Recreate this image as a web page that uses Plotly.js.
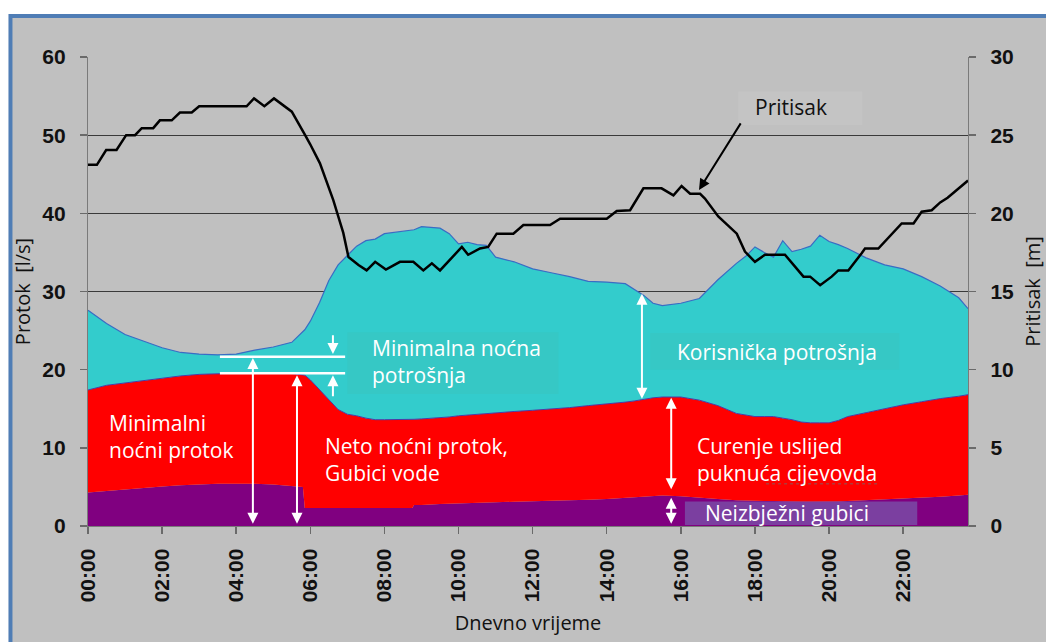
<!DOCTYPE html>
<html>
<head>
<meta charset="utf-8">
<script src="https://cdn.plot.ly/plotly-3.0.1.min.js"></script>
<style>
html,body{margin:0;padding:0;background:#ffffff;}
#chart{width:1046px;height:642px;}
</style>
</head>
<body>
<div id="chart"></div>
<script>
// ---- DATA (hours of day, flows in l/s, pressure in m) ----
var hours = [0,0.5,1,1.5,2,2.5,3,3.5,4,4.5,
  5,5.5,5.8,5.85,6,6.25,6.5,6.75,7,7.25,
  7.5,7.75,8,8.5,8.75,8.8,9,9.5,9.75,10,
  10.25,10.5,10.75,11,11.5,12,12.5,13,13.5,14,
  14.5,14.75,15,15.25,15.5,16,16.5,17,17.5,17.75,
  18,18.25,18.5,18.75,19,19.25,19.5,19.75,20,20.25,
  20.5,21,21.5,22,22.5,23,23.5,23.75];

// total flow (top of the cyan area: korisnička potrošnja)
var ukupniProtok = [27.6,25.9,24.5,23.6,22.8,22.2,22.0,21.9,22.0,22.5,
  22.9,23.5,24.8,25.1,26.2,28.6,31.4,33.4,34.6,35.8,
  36.5,36.7,37.4,37.7,37.9,37.9,38.3,38.1,37.4,36.1,
  36.3,36.0,35.9,34.4,33.8,32.9,32.4,31.9,31.3,31.2,
  31.0,30.3,29.5,28.5,28.2,28.5,29.1,31.5,33.6,34.5,
  35.7,35.0,34.4,36.5,35.1,35.4,35.8,37.2,36.4,36.0,
  35.5,34.3,33.4,32.9,31.9,30.7,29.2,27.8];

// water losses (top of the red area: curenje + neizbježni gubici)
var gubiciVode = [17.4,18.0,18.3,18.6,18.9,19.2,19.4,19.5,19.55,19.6,
  19.6,19.5,19.35,19.3,18.7,17.4,16.1,14.9,14.3,14.1,
  13.8,13.6,13.6,13.6,13.6,13.65,13.7,13.85,13.95,14.1,
  14.2,14.3,14.4,14.5,14.65,14.8,14.95,15.15,15.4,15.6,
  15.85,16.0,16.2,16.4,16.5,16.5,16.1,15.4,14.4,14.2,
  14.0,14.0,14.0,13.8,13.6,13.3,13.2,13.2,13.2,13.5,
  14.0,14.5,15.0,15.5,15.9,16.3,16.6,16.8];

// unavoidable losses (purple area)
var neizbjezniGubici = [4.3,4.5,4.7,4.9,5.05,5.2,5.3,5.4,5.4,5.4,
  5.3,5.15,5.0,2.3,2.3,2.3,2.3,2.3,2.3,2.3,
  2.3,2.3,2.3,2.3,2.3,2.7,2.7,2.8,2.85,2.9,
  2.95,3.0,3.0,3.05,3.1,3.15,3.2,3.3,3.35,3.45,
  3.6,3.7,3.8,3.85,3.9,3.8,3.6,3.45,3.3,3.25,
  3.2,3.2,3.2,3.15,3.15,3.1,3.1,3.1,3.1,3.15,
  3.2,3.3,3.4,3.5,3.6,3.75,3.9,4.0];

// pressure line
var pritisakSati = [0,0.24,0.49,0.77,1.03,1.27,1.45,1.76,1.94,2.26,
  2.48,2.80,3.0,4.28,4.48,4.76,5.02,5.50,5.86,5.99,
  6.26,6.62,6.89,7.03,7.30,7.52,7.75,8.04,8.42,8.78,
  9.05,9.28,9.50,9.82,10.09,10.26,10.58,10.80,11.03,11.48,
  11.75,12.47,12.74,14.0,14.27,14.63,14.99,15.48,15.80,16.02,
  16.25,16.52,16.65,17.01,17.51,17.73,18.0,18.27,18.81,19.31,
  19.49,19.76,20.07,20.25,20.52,20.88,20.97,21.33,21.69,21.96,
  22.28,22.50,22.77,23.0,23.2,23.45,23.75];
var pritisak = [23.1,23.1,24.05,24.05,25.0,25.0,25.45,25.45,25.95,25.95,
  26.45,26.45,26.85,26.85,27.35,26.85,27.35,26.5,25.0,24.45,
  23.2,20.85,18.75,17.2,16.7,16.35,16.9,16.4,16.9,16.9,
  16.35,16.8,16.35,17.2,17.85,17.35,17.75,17.85,18.7,18.7,
  19.25,19.25,19.65,19.65,20.15,20.2,21.6,21.6,21.15,21.75,
  21.25,21.25,20.95,19.8,18.7,17.55,16.9,17.35,17.35,15.95,
  15.95,15.4,15.95,16.35,16.35,17.45,17.75,17.75,18.7,19.35,
  19.35,20.1,20.2,20.7,21.0,21.5,22.1];

var xTickVals = [0,2,4,6,8,10,12,14,16,18,20,22];
var xTickText = ["00:00","02:00","04:00","06:00","08:00","10:00","12:00","14:00","16:00","18:00","20:00","22:00"];

// ---- TRACES ----
var traces = [
  {x: hours, y: neizbjezniGubici, type:'scatter', mode:'lines', fill:'tozeroy',
   fillcolor:'#800080', line:{width:0, color:'#800080'}, hoverinfo:'skip'},
  {x: hours, y: gubiciVode, type:'scatter', mode:'lines', fill:'tonexty',
   fillcolor:'#ff0000', line:{width:1, color:'#4b3aa6'}, hoverinfo:'skip'},
  {x: hours, y: ukupniProtok, type:'scatter', mode:'lines', fill:'tonexty',
   fillcolor:'#33cccc', line:{width:1.2, color:'#3a6cc4'}, hoverinfo:'skip'},
  {x: pritisakSati, y: pritisak, type:'scatter', mode:'lines', yaxis:'y2',
   line:{width:2.5, color:'#000000'}, hoverinfo:'skip'}
];

// ---- helpers for annotations ----
var labelFont = {family:'Open Sans', size:21, color:'#ffffff'};
function arrow(x, yTip, yTail, both, color){
  return {x:x, y:yTip, ax:x, ay:yTail, xref:'x', yref:'y', axref:'x', ayref:'y',
    text:'', showarrow:true, arrowcolor: color || '#ffffff', arrowwidth:2,
    arrowhead:2, arrowsize:1.1, arrowside: both ? 'end+start' : 'end',
    startarrowhead:2, startarrowsize:1.1, standoff:0, startstandoff:0};
}
function label(x, y, txt, extra){
  var a = {x:x, y:y, xref:'x', yref:'y', text:txt, showarrow:false,
    xanchor:'left', yanchor:'middle', align:'left', font:labelFont};
  if (extra) for (var k in extra) a[k] = extra[k];
  return a;
}

var annotations = [
  label(0.51, 11.5, 'Minimalni<br>noćni protok'),
  label(6.34, 8.55, 'Neto noćni protok,<br>Gubici vode'),
  label(7.61, 21.1, 'Minimalna noćna<br>potrošnja'),
  label(15.84, 22.3, 'Korisnička potrošnja'),
  label(16.38, 8.55, 'Curenje uslijed<br>puknuća cijevovda'),
  label(16.6, 1.6, 'Neizbježni gubici'),
  label(17.95, 53.6, 'Pritisak', {font:{family:'Open Sans', size:21, color:'#111111'}}),
  // pressure pointer
  {x:16.49, y:43.0, ax:17.64, ay:51.7, xref:'x', yref:'y', axref:'x', ayref:'y',
   text:'', showarrow:true, arrowcolor:'#000000', arrowwidth:2, arrowhead:2, arrowsize:1.1, standoff:0},
  arrow(4.45, 21.5, 0.1, true),
  arrow(5.64, 19.3, 0.1, true),
  arrow(6.61, 22.0, 24.6, false),
  arrow(6.61, 19.3, 16.4, false),
  arrow(14.95, 29.7, 16.1, true),
  arrow(15.74, 16.4, 4.5, true),
  arrow(15.74, 3.6, 0.1, true)
];

var shapes = [
  // outer grey panel with blue frame
  {type:'rect', xref:'paper', yref:'paper', x0:-0.0881, x1:1.11, y0:-0.29, y1:1.0874,
   fillcolor:'#c0c0c0', line:{color:'#4f7db5', width:4}, layer:'below'},
  // label boxes
  {type:'rect', xref:'x', yref:'y', x0:7.0, x1:12.7, y0:16.9, y1:24.8,
   fillcolor:'#36c8c5', line:{width:0}, layer:'above'},
  {type:'rect', xref:'x', yref:'y', x0:15.17, x1:21.9, y0:20.0, y1:24.7,
   fillcolor:'#36c8c5', line:{width:0}, layer:'above'},
  {type:'rect', xref:'x', yref:'y', x0:17.55, x1:20.9, y0:51.3, y1:55.6,
   fillcolor:'#c4c4c4', line:{width:0}, layer:'above'},
  {type:'rect', xref:'x', yref:'y', x0:16.11, x1:22.38, y0:0.13, y1:3.15,
   fillcolor:'#7b3fa0', line:{width:0}, layer:'above'},
  // minimum night flow levels
  {type:'line', xref:'x', yref:'y', x0:3.56, x1:6.94, y0:21.66, y1:21.66,
   line:{color:'#ffffff', width:2.5}},
  {type:'line', xref:'x', yref:'y', x0:3.56, x1:6.94, y0:19.53, y1:19.53,
   line:{color:'#ffffff', width:2.5}},
  // spell-check squiggle under "cijevovda"
  {type:'line', xref:'x', yref:'y', x0:18.3, x1:21.3, y0:5.4, y1:5.4,
   line:{color:'#b03a3a', width:1.5, dash:'dot'}}
];

var axisTickFont = {family:'Liberation Sans', size:21, color:'#111111', weight:'bold'};
var titleFont = {family:'Open Sans', size:20, color:'#111111'};

var layout = {
  width:1046, height:642,
  margin:{l:88, r:78, t:57, b:116, pad:0},
  paper_bgcolor:'#ffffff', plot_bgcolor:'#c0c0c0',
  showlegend:false,
  xaxis:{range:[0,23.75], tickvals:xTickVals, ticktext:xTickText, tickangle:-90,
    ticks:'outside', ticklen:7, tickcolor:'#6a6a6a', tickwidth:1.5,
    showline:true, linecolor:'#7a7a7a', linewidth:1.2, showgrid:false, zeroline:false,
    tickfont:axisTickFont, ticklabelstandoff:6,
    title:{text:'Dnevno vrijeme', font:titleFont, standoff:14}},
  yaxis:{range:[0,60], dtick:10, ticks:'outside', ticklen:7, tickcolor:'#6a6a6a', tickwidth:1.5,
    showline:true, linecolor:'#7a7a7a', linewidth:1.2, showgrid:true,
    gridcolor:'#3a3a3a', gridwidth:1.3, zeroline:false,
    tickfont:axisTickFont, ticklabelstandoff:10,
    title:{text:'Protok  [l/s]', font:titleFont, standoff:6}},
  yaxis2:{range:[0,30], dtick:5, overlaying:'y', side:'right', ticks:'outside', ticklen:7,
    tickcolor:'#6a6a6a', tickwidth:1.5, showline:true, linecolor:'#7a7a7a', linewidth:1.2,
    showgrid:false, zeroline:false, tickfont:axisTickFont, ticklabelstandoff:10,
    title:{text:'Pritisak  [m]', font:titleFont, standoff:16}},
  shapes:shapes,
  annotations:annotations
};

Plotly.newPlot('chart', traces, layout, {staticPlot:true, displayModeBar:false});
</script>
</body>
</html>
